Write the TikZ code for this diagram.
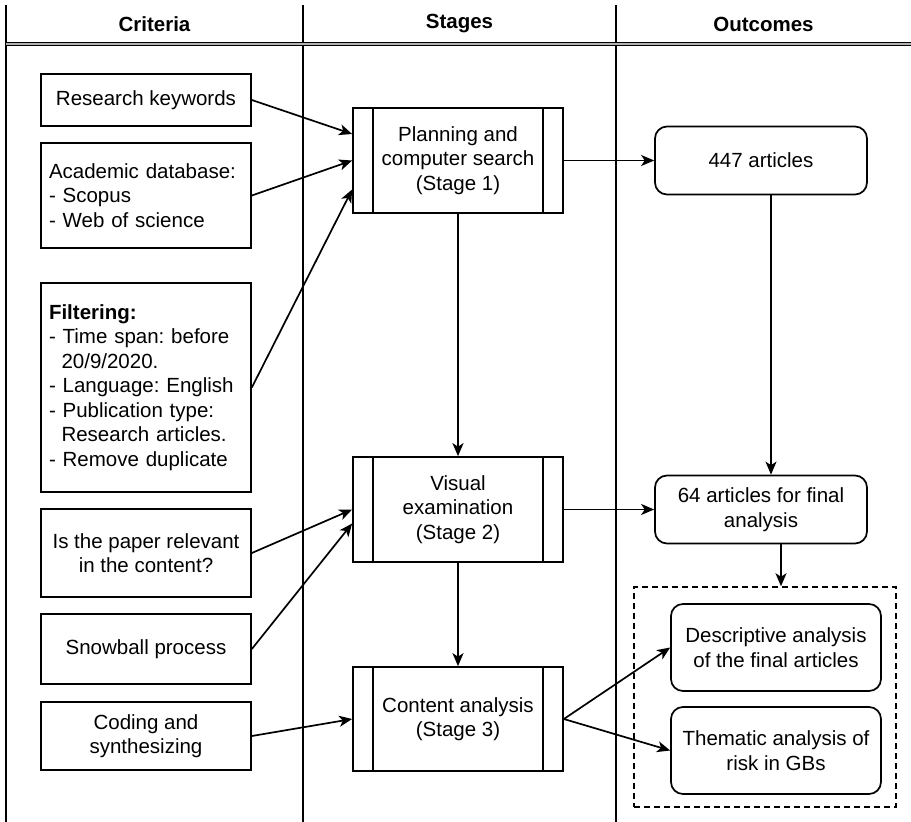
\documentclass[tikz,border=0pt]{standalone}
\usepackage{fontspec}
\setmainfont{Liberation Sans}
\usetikzlibrary{arrows.meta}

\begin{document}
\begin{tikzpicture}[
  x=1pt, y=-1pt,
  line width=1.7pt,
  every node/.style={font=\fontsize{20.5}{24.5}\selectfont\frenchspacing},
  head/.style={font=\fontsize{20.5}{24.5}\selectfont\bfseries},
  crit/.style={draw, minimum width=210pt, align=center, inner sep=8pt},
  stagebox/.style={draw, minimum width=210pt, minimum height=105pt, align=center},
  outbox/.style={draw, rounded corners=12pt, minimum width=212pt, minimum height=68pt, align=center},
  arr/.style={-{Stealth[length=13pt,width=11pt,inset=3.5pt]}},
]
\useasboundingbox (0,0) rectangle (911,822);
% Table frame (three columns, header row)
\draw (6,5) -- (6,822);
\draw (303,5) -- (303,822);
\draw (616,5) -- (616,822);
\draw[double=gray!60, double distance=1.2pt, line width=1pt] (6,44) -- (911,44);
\node[head] (hcrit) at (154.5,24) {Criteria};
\node[head] (hstage) at (459.5,24) {Stages};
\node[head] (hout) at (763.5,24) {Outcomes};
% Criteria
\node[crit, minimum height=52pt] (kw) at (146,100) {Research keywords};
\node[crit, minimum height=105pt, align=left, text width=194pt] (db) at (146,195.5)
  {Academic database:\\- Scopus\\- Web of science};
\node[crit, minimum height=209pt, align=left, text width=194pt] (filt) at (146,387.5)
  {\textbf{Filtering:}\\- Time span: before\\\hspace*{.61em}20/9/2020.\\- Language: English\\- Publication type:\\\hspace*{.61em}Research articles.\\- Remove duplicate};
\node[crit, minimum height=88pt] (rel) at (146,553) {Is the paper relevant\\in the content?};
\node[crit, minimum height=70pt] (snow) at (146,649) {Snowball process};
\node[crit, minimum height=68pt] (code) at (146,736) {Coding and\\synthesizing};
% Stages (process boxes with side bars)
\node[stagebox] (st1) at (458,160.5) {Planning and\\computer search\\(Stage 1)};
\node[stagebox] (st2) at (458,509.5) {Visual\\examination\\(Stage 2)};
\node[stagebox, minimum height=104pt] (st3) at (458,719) {Content analysis\\(Stage 3)};
\foreach \s in {st1,st2,st3} {
  \draw ([xshift=21pt]\s.north west) -- ([xshift=21pt]\s.south west);
  \draw ([xshift=-21pt]\s.north east) -- ([xshift=-21pt]\s.south east);
}
% Outcomes
\node[outbox] (o1) at (761,160.5) {447 articles};
\node[outbox] (o2) at (761,509.5) {64 articles for final\\analysis};
\node[draw, line width=1.5pt, dash pattern=on 6pt off 4pt, minimum width=262pt, minimum height=220pt] (grp) at (765,697) {};
\node[outbox, minimum width=210pt, minimum height=87pt] (d1) at (776,647.5) {Descriptive analysis\\of the final articles};
\node[outbox, minimum width=210pt, minimum height=87pt] (d2) at (776,750.5) {Thematic analysis of\\risk in GBs};
% Arrows
\draw[arr] (kw.east) -- ([yshift=26.5pt]st1.west);
\draw[arr] (db.east) -- (st1.west);
\draw[arr] (filt.east) -- ([yshift=-29pt]st1.west);
\draw[arr] (rel.east) -- (st2.west);
\draw[arr] (snow.east) -- ([yshift=-14pt]st2.west);
\draw[arr] (code.east) -- (st3.west);
\draw[arr] (st1) -- (st2);
\draw[arr] (st2) -- (st3);
\draw[arr] (st1) -- (o1);
\draw[arr] (st2) -- (o2);
\draw[arr] ([xshift=10pt]o1.south) -- ([xshift=10pt]o2.north);
\draw[arr] ([xshift=20pt]o2.south) -- ([xshift=20pt]o2.south |- grp.north);
\draw[arr] (st3.east) -- (d1.west);
\draw[arr] (st3.east) -- (d2.west);
\end{tikzpicture}
\end{document}
